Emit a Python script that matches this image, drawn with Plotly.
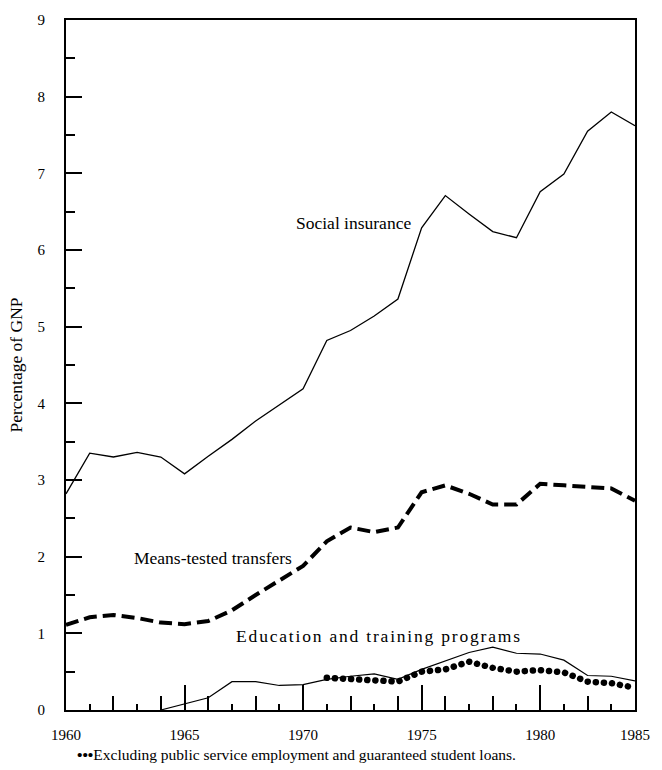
import plotly.graph_objects as go

years = list(range(1960, 1985))

social_insurance = [2.82, 3.35, 3.30, 3.36, 3.30, 3.08, 3.31, 3.53, 3.77, 3.98,
                    4.19, 4.82, 4.95, 5.14, 5.36, 6.29, 6.71, 6.47, 6.24, 6.16,
                    6.76, 6.99, 7.55, 7.80, 7.62]

means_tested = [1.11, 1.21, 1.24, 1.20, 1.14, 1.12, 1.16, 1.30, 1.50, 1.69,
                1.88, 2.20, 2.38, 2.32, 2.38, 2.84, 2.93, 2.82, 2.68, 2.68,
                2.95, 2.93, 2.91, 2.89, 2.73]

education = [None, None, None, None, 0.00, 0.08, 0.16, 0.37, 0.37, 0.32,
             0.33, 0.40, 0.44, 0.47, 0.40, 0.53, 0.64, 0.75, 0.82, 0.74,
             0.73, 0.65, 0.45, 0.44, 0.38]

education_excl = [None, None, None, None, None, None, None, None, None, None,
                  None, 0.42, 0.40, 0.38, 0.37, 0.50, 0.53, 0.63, 0.55, 0.50,
                  0.52, 0.49, 0.37, 0.35, 0.29]

x_tickvals = [1960, 1965, 1970, 1975, 1980, 1984]
x_ticktext = ["1960", "1965", "1970", "1975", "1980", "1985"]
even_years = [1962, 1964, 1966, 1968, 1972, 1974, 1976, 1978, 1982]
y_tickvals = [0, 1, 2, 3, 4, 5, 6, 7, 8, 9]

SERIF = "Liberation Serif, Times New Roman, serif"
XR = [1960, 1984]

fig = go.Figure()
fig.add_trace(go.Scatter(x=years, y=means_tested, mode="lines",
                         line=dict(color="black", width=4, dash="13px,6px"),
                         name="Means-tested transfers", showlegend=False))
fig.add_trace(go.Scatter(x=years, y=social_insurance, mode="lines", xaxis="x2",
                         line=dict(color="black", width=1.3),
                         name="Social insurance", showlegend=False))
fig.add_trace(go.Scatter(x=years, y=education, mode="lines", xaxis="x3",
                         line=dict(color="black", width=1.2),
                         name="Education and training programs", showlegend=False))
fig.add_trace(go.Scatter(x=years, y=education_excl, mode="lines", xaxis="x3",
                         line=dict(color="black", width=6.5, dash="0.1px,8px"),
                         name="Excluding PSE and GSL", showlegend=False))

common_x = dict(range=XR, showgrid=False, zeroline=False, tickcolor="black")

fig.update_layout(
    width=662, height=770,
    margin=dict(l=66, r=18, t=14, b=60),
    paper_bgcolor="white", plot_bgcolor="white",
    font=dict(family=SERIF, size=15, color="black"),
    hovermode=False,
    xaxis=dict(**common_x, tickmode="array", tickvals=x_tickvals, ticktext=x_ticktext,
               ticks="inside", ticklen=25, tickwidth=2,
               showline=True, linewidth=2, linecolor="black", mirror=True,
               ticklabelstandoff=10, tickfont=dict(family=SERIF, size=15)),
    xaxis2=dict(**common_x, overlaying="x", anchor="y", side="bottom",
                tickmode="linear", tick0=1960, dtick=1,
                ticks="inside", ticklen=6, tickwidth=1.5,
                showticklabels=False, showline=False),
    xaxis3=dict(**common_x, overlaying="x", anchor="y", side="bottom",
                tickmode="array", tickvals=even_years,
                ticks="inside", ticklen=14, tickwidth=1.5,
                showticklabels=False, showline=False),
    yaxis=dict(range=[0, 9], tickvals=y_tickvals, ticks="inside", ticklen=16,
               tickwidth=2, tickcolor="black",
               minor=dict(dtick=0.5, tick0=0, ticks="inside", ticklen=9,
                          tickwidth=1.5, tickcolor="black"),
               showline=True, linewidth=2, linecolor="black", mirror=True,
               showgrid=False, zeroline=False, ticklabelstandoff=16,
               tickfont=dict(family=SERIF, size=15),
               title=dict(text="Percentage of GNP", standoff=10,
                          font=dict(family=SERIF, size=17.5))),
    annotations=[
        dict(x=1972.13, y=6.35, xref="x", yref="y", text="Social insurance",
             showarrow=False, font=dict(family=SERIF, size=17.5)),
        dict(x=1966.2, y=1.98, xref="x", yref="y", text="Means-tested transfers",
             showarrow=False, font=dict(family=SERIF, size=17.5)),
        dict(x=1973.2, y=0.96, xref="x", yref="y", text="Education and training programs",
             showarrow=False, font=dict(family=SERIF, size=17.5)),
        dict(x=0.015, y=-0.064, xref="paper", yref="paper", xanchor="left",
             yanchor="middle",
             text="<b>•••</b>Excluding public service employment and guaranteed student loans.",
             showarrow=False, font=dict(family=SERIF, size=15.5)),
    ],
)

post = """
document.body.style.margin = '0';
document.querySelectorAll('path.js-line').forEach(function (p) {
  var d = p.style.strokeDasharray || p.getAttribute('stroke-dasharray') || '';
  if (d.indexOf('8px') !== -1 && d.indexOf('0.1') !== -1) {
    p.style.strokeLinecap = 'round';
  }
});
var anns = document.querySelectorAll('g.annotation text.annotation-text');
if (anns.length > 2) { anns[2].style.letterSpacing = '1.8px'; }
"""

fig.write_html("out.html", post_script=post, config={"displayModeBar": False})
